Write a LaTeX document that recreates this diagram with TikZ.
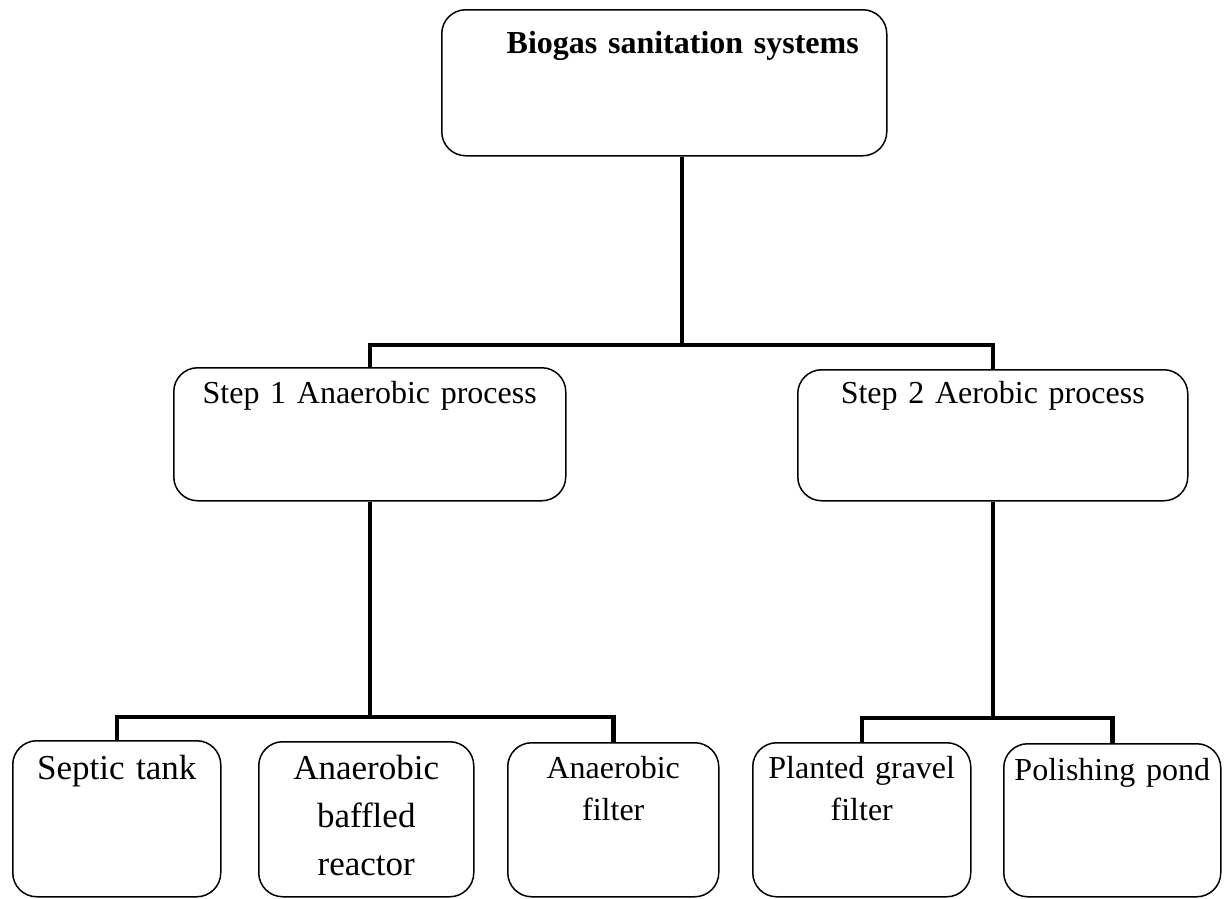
\documentclass[tikz,border=0pt]{standalone}
\usepackage{fontspec}
\setmainfont{Liberation Serif}

\begin{document}
\begin{tikzpicture}[x=1pt,y=-1pt,
        box/.style={draw,rounded corners=24pt,line width=1.5pt,inner sep=0pt,
          anchor=north west,align=center,font=\fontsize{32pt}{42pt}\selectfont},
        link/.style={line width=4.5pt}]
      \useasboundingbox (0,0) rectangle (1224,898);
      \node[box,text width=445pt,text height=44pt,text depth=102pt,
            font=\fontsize{32pt}{38pt}\selectfont\bfseries]  (bio)  at (441,9) {\hspace*{37pt}Biogas sanitation systems};
      \node[box,text width=392pt,text height=36pt,text depth=97pt]  (s1)  at (173,367) {Step 1 Anaerobic process};
      \node[box,text width=390pt,text height=34pt,text depth=97pt]  (s2)  at (797,369) {Step 2 Aerobic process};
      \node[box,text width=208pt,text height=39pt,text depth=117pt,
            font=\fontsize{35pt}{48pt}\selectfont]  (septic)  at (12,740) {Septic tank};
      \node[box,text width=215pt,text height=38pt,text depth=117pt,
            font=\fontsize{35pt}{48pt}\selectfont]  (abr)  at (258,741) {Anaerobic\\baffled\\reactor};
      \node[box,text width=211pt,text height=36pt,text depth=118pt]  (af)  at (507,742) {Anaerobic\\filter};
      \node[box,text width=218pt,text height=36pt,text depth=118pt]  (pgf)  at (752,742) {Planted gravel\\filter};
      \node[box,text width=217pt,text height=37pt,text depth=116pt]  (pp)  at (1003,743) {Polishing pond};

      \coordinate (j1) at (682,345);
      \draw[link] (bio.south -| j1) -- (j1);
      \draw[link] (s1.north) |- (j1) -| (s2.north);
      \draw[link] (septic.north) -- ++(0,-23) coordinate (j2) -| (af.north);
      \draw[link] (s1.south) -- (s1.south |- j2);
      \draw[link] (pgf.north) -- ++(0,-24) coordinate (j3) -| (pp.north);
      \draw[link] (s2.south) -- (s2.south |- j3);
      \end{tikzpicture}
\end{document}
